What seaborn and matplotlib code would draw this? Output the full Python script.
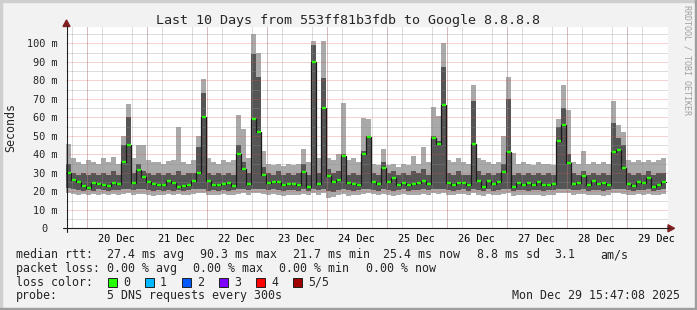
import numpy as np
import pandas as pd
import matplotlib
matplotlib.use("Agg")
import matplotlib.pyplot as plt
import matplotlib.dates as mdates
import matplotlib.transforms as mtransforms
from matplotlib.ticker import MultipleLocator, FuncFormatter
from matplotlib.patches import Rectangle, Polygon
from matplotlib.lines import Line2D
import seaborn as sns

# ---------------- data (2-hour steps, values in milliseconds) ----------------
START = "2025-12-19 15:47"
STEP_H = 2
median_ms = [
    30.0, 26.0, 25.0, 23.0, 22.0, 24.5, 24.0, 23.5, 23.0, 24.5,
    24.0, 36.0, 45.0, 24.5, 31.5, 27.5, 25.0, 24.0, 23.5, 23.5,
    25.5, 24.3, 22.5, 23.0, 23.4, 25.8, 30.0, 60.0, 25.6, 23.4,
    23.4, 23.8, 24.5, 23.0, 40.0, 32.0, 24.0, 59.3, 52.0, 29.0,
    24.3, 25.2, 25.2, 23.5, 24.0, 24.0, 23.4, 30.6, 22.5, 90.0,
    24.0, 65.0, 28.0, 25.0, 26.0, 39.0, 24.5, 24.0, 23.5, 40.0,
    49.5, 25.2, 24.2, 32.4, 25.2, 27.0, 23.5, 24.5, 23.5, 23.7,
    24.3, 25.5, 24.0, 49.0, 45.6, 66.7, 24.5, 23.5, 24.5, 24.3,
    23.5, 45.4, 25.5, 22.5, 25.6, 24.0, 25.0, 30.6, 41.0, 22.5,
    24.5, 23.5, 24.5, 23.5, 25.0, 23.5, 23.5, 24.0, 47.0, 56.0,
    35.5, 24.0, 24.5, 28.0, 23.5, 25.5, 24.0, 24.3, 23.5, 41.4,
    42.3, 32.8, 24.0, 23.0, 25.0, 24.5, 27.0, 22.5, 23.5, 25.0,
]
inner_hi_ms = [
    35, 30, 29, 30, 29, 30, 29, 30, 29, 31,
    29, 45, 60, 30, 35, 31, 30, 29, 30, 29,
    30, 29, 31, 29, 30, 30, 44, 73, 30, 29,
    30, 29, 30, 29, 45, 36, 30, 94, 82, 33,
    30, 29, 31, 29, 30, 29, 30, 35, 29, 99,
    30, 81, 32, 30, 31, 40, 29, 30, 29, 42,
    50, 30, 29, 36, 30, 31, 29, 30, 29, 31,
    30, 32, 29, 50, 47, 87, 30, 29, 31, 29,
    29, 69, 31, 29, 30, 29, 30, 35, 70, 29,
    30, 29, 30, 29, 30, 29, 30, 29, 55, 65,
    40, 30, 29, 31, 29, 30, 29, 30, 29, 57,
    49, 45, 30, 29, 30, 29, 31, 29, 30, 30,
]
outer_hi_ms = [
    45.5, 38, 36, 35, 37, 36, 35, 38, 36, 38.5,
    35, 50, 67, 38, 45, 45, 37, 36, 36, 35,
    36.5, 37, 55, 36, 35, 37, 50, 80.7, 38, 36,
    35, 37, 36, 37, 61, 53.7, 38, 105, 95, 42,
    35, 34, 35, 33.5, 35, 34, 35, 43, 36, 101,
    38, 101, 38, 37, 40, 67.5, 37, 38, 36, 59.5,
    59, 35, 34, 43, 34, 35, 33, 35, 34, 39,
    35, 44, 36, 65.4, 60.7, 100, 37, 36, 38, 36,
    35, 77.5, 38, 37, 36, 35, 36, 50, 82, 40.5,
    35, 36, 35, 34, 36, 35, 35, 34, 59, 77.5,
    64, 36, 35, 42, 35, 36, 35, 36, 35, 69,
    55.8, 52, 37, 36, 37, 36, 37, 36, 37, 38,
]
inner_lo_ms = [
    22, 21, 20.5, 20, 20.5, 20, 21, 20.5, 20, 20.5,
    20.5, 21, 21.5, 20.5, 21, 21, 20.5, 20, 20.5, 20,
    20.5, 20, 20.5, 20, 20.5, 21, 21, 21.5, 20, 20.5,
    20, 20.5, 20, 20.5, 21, 21, 20.5, 21.5, 21.5, 21,
    20.5, 21, 20.5, 20, 20.5, 20.5, 20, 21, 20, 21.5,
    20.5, 21.5, 20, 19.5, 20.5, 21, 20.5, 20, 20.5, 21,
    21.5, 20.5, 20, 21, 20.5, 20, 20.5, 21, 20, 20.5,
    20.5, 21, 20.5, 21.5, 21, 21.5, 20.5, 20, 20.5, 21,
    20, 21.5, 20.5, 20, 21, 20, 20.5, 21, 21.5, 20,
    20.5, 20.5, 20, 20.5, 20.5, 20, 20.5, 20.5, 21.5, 21.5,
    21.5, 20.5, 20.5, 21, 20, 20.5, 20.5, 20, 20.5, 21.5,
    21.5, 21, 20.5, 20, 20.5, 20.5, 21, 20, 20.5, 21,
]
outer_lo_ms = [
    19, 18.5, 18, 18.5, 18, 18.5, 18, 18.5, 18, 18.5,
    18, 18.5, 19, 18, 18.5, 18.5, 18, 17.5, 18, 18,
    18.5, 18, 18.5, 18, 18, 18.5, 19, 19, 18, 18,
    18, 18.5, 18, 18, 18.5, 19, 18, 19, 19, 18.5,
    18, 18.5, 18, 17.5, 18, 18, 18, 18.5, 18, 19,
    18, 19, 16.5, 17, 18, 18.5, 17.5, 18, 18, 18.5,
    19, 18.5, 18, 18.5, 18, 17.5, 18, 18.5, 18, 18,
    18, 18.5, 18, 19, 18.5, 19, 18, 18, 18.5, 18.5,
    18, 19, 18, 17.5, 18.5, 18, 18, 18.5, 19, 17.5,
    18, 18, 18, 18, 18, 17.5, 18, 18, 19, 19,
    19, 18, 18.5, 18.5, 18, 18, 18, 17.5, 18, 19,
    19, 18.5, 18, 18, 18.5, 18, 18.5, 18, 18, 18.5,
]

title = "Last 10 Days from 553ff81b3fdb to Google 8.8.8.8"
y_label = "Seconds"
row1 = [("median rtt:", 16), ("27.4 ms avg", 107.3), ("90.3 ms max", 200.0),
        ("21.7 ms min", 293.3), ("25.4 ms now", 382.7), ("8.8 ms sd", 477.0),
        ("3.1", 554.0), ("am/s", 600.0)]
row2 = [("packet loss:", 16), ("0.00 % avg", 107.3), ("0.00 % max", 193.3),
        ("0.00 % min", 279.3), ("0.00 % now", 365.7)]
loss_labels = ["0", "1", "2", "3", "4", "5/5"]
loss_colors = ["#26ff00", "#00b8ff", "#0059ff", "#7e00ff", "#ff0000", "#a10000"]
probe_text = "5 DNS requests every 300s"
stamp_text = "Mon Dec 29 15:47:08 2025"
watermark = "RRDTOOL / TOBI OETIKER"

# ---------------- figure ----------------
W, H = 697, 310
sns.set_style("white")
plt.rcParams["font.family"] = ["DejaVu Sans Mono", "DejaVu Sans"]

fig = plt.figure(figsize=(W / 100, H / 100), dpi=100)
fig.patch.set_facecolor("#f2f2f2")


def fx(x):
    return x / W


def fy(y):
    return 1 - y / H


AX_L, AX_R, AX_T, AX_B = 66.2, 668.2, 27.0, 228.3
ax = fig.add_axes([fx(AX_L), fy(AX_B), (AX_R - AX_L) / W, (AX_B - AX_T) / H])
ax.set_facecolor("white")
for s in ax.spines.values():
    s.set_visible(False)

n = len(median_ms)
step = pd.Timedelta(hours=STEP_H)
edges = pd.date_range(START, periods=n + 1, freq=f"{STEP_H}h")
starts = edges[:-1]


def ext(a):
    a = np.asarray(a, dtype=float)
    return np.append(a, a[-1])


ax.fill_between(edges, ext(outer_lo_ms), ext(outer_hi_ms), step="post",
                color="#a9a9a9", lw=0, zorder=1)
ax.fill_between(edges, ext(inner_lo_ms), ext(inner_hi_ms), step="post",
                color="#555555", lw=0, zorder=1.2)

df = pd.DataFrame({"t": edges, "ms": ext(median_ms)})
sns.lineplot(data=df, x="t", y="ms", drawstyle="steps-post", color="#1a1a1a",
             lw=0.9, ax=ax, zorder=3)
ax.hlines(median_ms, starts + step * 0.1, starts + step * 0.9, color="#26ff00",
          lw=1.7, zorder=3.5)

ax.set_xlim(pd.Timestamp(START), pd.Timestamp(START) + pd.Timedelta(hours=240.8))
ax.set_ylim(0, 108.8)
ax.set_xlabel("")
ax.set_ylabel("")

ax.xaxis.set_major_locator(mdates.HourLocator(byhour=[12]))
ax.xaxis.set_major_formatter(mdates.DateFormatter("%d %b"))
ax.xaxis.set_minor_locator(mdates.HourLocator(byhour=[0, 6, 12, 18]))
ax.yaxis.set_major_locator(MultipleLocator(10))
ax.yaxis.set_minor_locator(MultipleLocator(5))
ax.yaxis.set_major_formatter(FuncFormatter(lambda v, p: "" if v == 0 else f"{v:.0f} m"))

ax.tick_params(axis="x", which="major", length=0, pad=4.2, labelsize=7.4, colors="black")
ax.tick_params(axis="x", which="minor", length=2, direction="in", color="#1f1f1f", width=0.7)
ax.tick_params(axis="y", which="major", length=2.5, direction="out", pad=3.5,
               labelsize=7.4, color="#1f1f1f", width=0.7)
ax.tick_params(axis="y", which="minor", length=0)
# rrdtool writes the zero label as "0" followed by an empty unit column
zero_tr = mtransforms.blended_transform_factory(fig.transFigure, ax.transData)
ax.text(fx(47.5), 0, "0", transform=zero_tr, ha="right", va="center_baseline",
        fontsize=7.4)

ax.set_axisbelow(False)
dash = (0, (1, 1))
ax.grid(which="minor", axis="both", color="#8f8f8f", alpha=0.6, lw=0.72, linestyle=dash)
ax.grid(which="major", axis="y", color="#de4f4f", alpha=0.5, lw=0.72, linestyle=dash)
for d in pd.date_range("2025-12-20", "2025-12-29", freq="D"):
    ax.axvline(d, color="#de4f4f", alpha=0.5, lw=0.72, linestyle=dash, zorder=2.5)

# axis lines and arrows
fig.add_artist(Line2D([fx(63), fx(669)], [fy(AX_B), fy(AX_B)], color="#1f1f1f", lw=0.8,
                      transform=fig.transFigure))
fig.add_artist(Line2D([fx(66.5), fx(66.5)], [fy(232), fy(26)], color="#1f1f1f", lw=0.8,
                      transform=fig.transFigure))
fig.add_artist(Polygon([[fx(668), fy(224.8)], [fx(674.5), fy(AX_B)], [fx(668), fy(231.8)]],
                       closed=True, color="#801f1f", transform=fig.transFigure))
fig.add_artist(Polygon([[fx(63), fy(26.5)], [fx(66.5), fy(20)], [fx(70), fy(26.5)]],
                       closed=True, color="#801f1f", transform=fig.transFigure))

# frame
fig.add_artist(Rectangle((0, fy(2)), 1, 2 / H, color="#cfcfcf", transform=fig.transFigure))
fig.add_artist(Rectangle((0, 0), 2 / W, 1, color="#cfcfcf", transform=fig.transFigure))
fig.add_artist(Rectangle((0, 0), 1, 2 / H, color="#9e9e9e", transform=fig.transFigure))
fig.add_artist(Rectangle((fx(695), 0), 2 / W, 1, color="#9e9e9e", transform=fig.transFigure))

# texts
fig.text(fx(348), fy(23.8), title, ha="center", va="baseline", fontsize=9.6)
fig.text(fx(11), fy(127), y_label, ha="center", va="center", rotation=90, fontsize=8.4)
fig.text(fx(687), fy(5), watermark, ha="center", va="top", rotation=270, fontsize=6,
         color="#a0a0a0")

LEG = 8.4
for s, x in row1:
    fig.text(fx(x), fy(258.3), s, ha="left", va="baseline", fontsize=LEG)
for s, x in row2:
    fig.text(fx(x), fy(271.7), s, ha="left", va="baseline", fontsize=LEG)
fig.text(fx(16), fy(285.7), "loss color:", ha="left", va="baseline", fontsize=LEG)
for i, (lab, col) in enumerate(zip(loss_labels, loss_colors)):
    x0 = 108.3 + i * 37.0
    fig.add_artist(Rectangle((fx(x0), fy(286.7)), 8.5 / W, 8.5 / H, facecolor=col,
                             edgecolor="#1f1f1f", lw=0.7, transform=fig.transFigure))
    fig.text(fx(x0 + 14.7), fy(285.7), lab, ha="left", va="baseline", fontsize=LEG)
fig.text(fx(16), fy(299.3), "probe:", ha="left", va="baseline", fontsize=LEG)
fig.text(fx(107.3), fy(299.3), probe_text, ha="left", va="baseline", fontsize=LEG)
fig.text(fx(680), fy(299.3), stamp_text, ha="right", va="baseline", fontsize=LEG)

fig.savefig("out.png", dpi=100, facecolor=fig.get_facecolor())
